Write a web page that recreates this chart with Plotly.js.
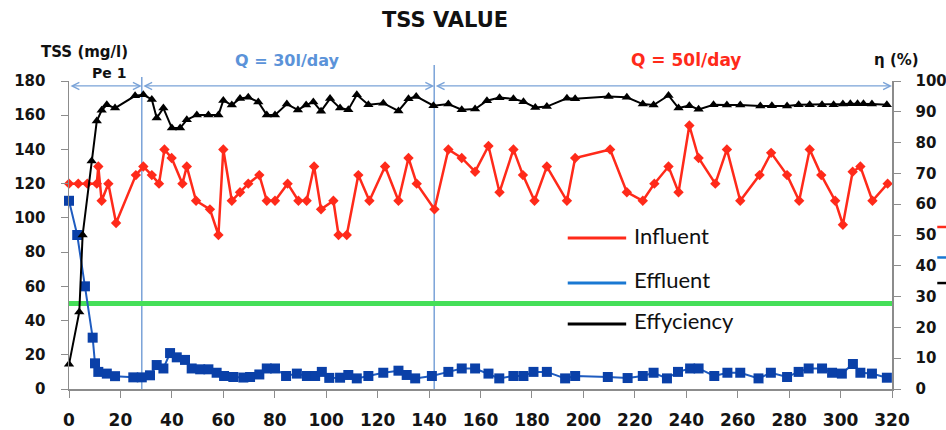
<!DOCTYPE html>
<html>
<head>
<meta charset="utf-8">
<script src="https://cdn.plot.ly/plotly-3.0.1.min.js"></script>
<style>html,body{margin:0;padding:0;background:#fff;}#chart{width:946px;height:430px;}</style>
</head>
<body>
<div id="chart"></div>
<script>
// Influent TSS (mg/l)
const dayInf = [0,3.6,7.1,10.8,11.4,12.7,15.3,18.3,26,28.9,32.2,35,37.1,39.9,44.1,45.8,49.4,54.8,58.1,60,63.3,66.5,69.7,74,76.9,80.1,85,89.2,92.4,95.3,98,102.8,104.8,108,112.5,116.8,122.9,128.1,132,135.2,142.1,147.5,152.7,157.9,163.1,167.4,172.8,176.5,181,185.8,193.6,196.8,210.4,216.9,223.1,227.6,233.1,237,241.2,244.8,251.3,255.8,261,268.5,273,279.2,283.9,288,292.5,297.9,300.9,304.7,307.7,312.4,318.3];
const influent = [120,120,120,120,130,110,120,97,125,130,125,120,140,135,120,130,110,105,90,140,110,115,120,125,110,110,120,110,110,130,105,110,90,90,125,110,130,110,135,120,105,140,135,127,142,115,140,125,110,130,110,135,140,115,110,120,130,115,154,135,120,140,110,125,138,125,110,140,125,110,96,127,130,110,120];

// Effluent TSS (mg/l)
const dayEff = [0,3.2,6.2,9.2,10.1,11.4,14.7,17.9,25,28.3,31.5,34.1,36.7,39.3,41.9,45.1,47.7,51,54.2,57.4,60.3,63.9,67.8,70.4,74,76.9,80.1,84.4,88.6,92.5,95.7,98.3,101.2,105.4,108.6,111.9,116.4,122.2,128.1,131.3,134.6,141.1,147.5,152.7,157.9,163.1,167.3,172.8,176.7,180.6,185.8,192.9,196.8,209.5,217.2,223.1,227.3,232.5,236.8,241.5,244.8,250.9,256,261,268.1,272.9,279.2,283.7,287.6,292.8,296.7,300.5,304.8,307.7,312.2,318];
const effluent = [110,90,60,30,15,10,9,7.5,6.8,6.8,8,14,12,21,18.5,17,12,11.5,11.5,9.5,7.6,7,6.7,7,8.5,12,12,7.6,9,7.6,7.6,10,6.5,6.6,8.2,6.2,7.6,9.5,10.7,8.2,6.2,7.6,10,12,12,9,6.2,7.6,7.6,10,10,6.2,7.6,7,6.4,7.6,9.5,6.2,10,12,12,7.6,9.5,9.5,6.2,9.5,7,10,12,12,9.5,9,14.6,9.5,9,6.6];

// Efficiency eta (%)
const dayEta = [0,4,5.3,8.8,10.8,12.7,14.7,17.9,25.7,28.9,32.2,34.1,36.7,40,43.2,45.8,49.7,54.2,58.1,60,63.3,66.5,69.7,73.6,76.9,80.1,84.7,89,92.2,95,98,101.5,105.4,108.6,111.9,116.4,122.2,128.1,132,135,141.7,147.5,152.7,157.9,162.5,167.4,172.8,176.7,181.3,185.8,193.6,196.8,209.8,216.9,223.1,227.3,233.1,237,241.2,244.8,250.6,255.8,261,268.8,273.3,279.2,283.7,288,292.8,297.3,300.9,303.8,306.6,308.9,312.2,318];
const efficiency = [8,25,50,74,87,90.5,92.3,91.2,95.2,95.5,94,88,91.2,84.7,84.7,87.4,89,89,89,93.7,92.2,94.3,94.7,93.2,89,89,92.5,90.6,92.2,93.2,90.2,94.3,91.2,90.7,95.5,92.3,92.8,90.3,94.2,95,92,92.5,90.7,90.9,93.6,94.6,94.2,93.3,91.4,91.7,94.4,94.2,95,94.7,92.5,92.2,95.3,91.2,92,90.8,92.3,92.2,92.2,91.9,92,91.9,92.3,92.3,92.3,92.3,92.5,92.6,92.6,92.6,92.5,92.3];

// Period boundaries (days) and limit
const periodBounds = [0, 28.3, 142, 320];
const limitTSS = 50;
const seriesNames = ["Influent", "Effluent", "Effyciency"];
const seriesColors = ["#ff2a1a", "#1a78d2", "#000000"];

const axisGray = "#8c8c8c";
const tickFontBase = {family: "DejaVu Sans", color: "#141414", weight: "bold"};

const traces = [
  {x: dayInf, y: influent, type: "scatter", mode: "lines+markers", name: seriesNames[0],
   line: {color: "#ff2a1a", width: 2.5}, marker: {symbol: "diamond", size: 8, color: "#ff2a1a"},
   cliponaxis: false, yaxis: "y"},
  {x: dayEff, y: effluent, type: "scatter", mode: "lines+markers", name: seriesNames[1],
   line: {color: "#1f5cc0", width: 2}, marker: {symbol: "square", size: 10, color: "#0a40a8"},
   cliponaxis: false, yaxis: "y"},
  {x: dayEta, y: efficiency, type: "scatter", mode: "lines+markers", name: seriesNames[2],
   line: {color: "#000", width: 2}, marker: {symbol: "triangle-up", size: 9, color: "#000"},
   cliponaxis: false, yaxis: "y2"}
];

const shapes = [];
// period separators
[periodBounds[1], periodBounds[2]].forEach((b, i) => {
  shapes.push({type: "line", xref: "x", yref: "paper", x0: b, x1: b, y0: 0, y1: i === 0 ? 1.013 : 1.052,
    line: {color: "#7aa3d8", width: 1.5}, layer: "below"});
});
// limit line
shapes.push({type: "line", xref: "paper", yref: "y", x0: 0, x1: 1, y0: limitTSS, y1: limitTSS,
  line: {color: "#45df58", width: 5}, layer: "below"});
// legend samples
const legY = [0.490, 0.344, 0.211];
legY.forEach((y, i) => {
  shapes.push({type: "line", xref: "paper", yref: "paper", x0: 0.606, x1: 0.677, y0: y, y1: y,
    line: {color: seriesColors[i], width: 3}});
});
// clipped legend fragments at the right edge
const fragY = [0.526, 0.427, 0.344];
fragY.forEach((y, i) => {
  shapes.push({type: "line", xref: "paper", yref: "paper", x0: 1.055, x1: 1.07, y0: y, y1: y,
    line: {color: seriesColors[i], width: 2.5}});
});

const annotations = [];
// period arrows
for (let i = 0; i < periodBounds.length - 1; i++) {
  annotations.push({xref: "x", yref: "paper", x: periodBounds[i + 1], y: 0.984,
    axref: "x", ayref: "pixel", ax: periodBounds[i], ay: 0, text: "", showarrow: true,
    arrowhead: 5, startarrowhead: 5, arrowside: "end+start", arrowsize: 1.1, startarrowsize: 1.1,
    arrowwidth: 1.3, arrowcolor: "#7aa3d8", standoff: 0, startstandoff: 0});
}
const txt = (text, x, y, size, color, family, bold, anchor) => ({
  xref: "paper", yref: "paper", x: x, y: y, text: text, showarrow: false,
  xanchor: anchor || "center", yanchor: "middle",
  font: {family: family || "DejaVu Sans", size: size, color: color || "#111", weight: bold ? "bold" : "normal"}
});
annotations.push(txt("TSS VALUE", 0.457, 1.198, 21, "#111", "DejaVu Sans", true));
annotations.push(txt("TSS (mg/l)", 0.0188, 1.094, 15, "#111", "DejaVu Sans", true));
annotations.push(txt("Pe 1", 0.048, 1.026, 14, "#111", "DejaVu Sans", true));
annotations.push(txt("Q = 30l/day", 0.2655, 1.065, 16, "#5b93d9", "DejaVu Sans", true));
annotations.push(txt("Q = 50l/day", 0.7497, 1.068, 17, "#ff2a1a", "DejaVu Sans", true));
annotations.push(txt("η (%)", 1.006, 1.068, 15, "#111", "DejaVu Sans", true));
const legTextY = [0.497, 0.357, 0.224];
legTextY.forEach((y, i) => annotations.push(txt(seriesNames[i], 0.684, y, 22, "#111", "Lato", false, "left")));

const layout = {
  width: 946, height: 430,
  margin: {l: 69, r: 54, t: 81, b: 41, pad: 0},
  paper_bgcolor: "#fff", plot_bgcolor: "#fff",
  showlegend: false,
  xaxis: {range: [0, 320], dtick: 20, tick0: 0, ticks: "outside", ticklen: 7, tickcolor: axisGray,
    showline: true, linecolor: axisGray, linewidth: 1.5, showgrid: false, zeroline: false,
    tickfont: Object.assign({size: 17}, tickFontBase), ticklabelstandoff: 8},
  yaxis: {range: [0, 180], dtick: 20, tick0: 0, ticks: "outside", ticklen: 7, tickcolor: axisGray,
    showline: true, linecolor: axisGray, linewidth: 1.5, showgrid: false, zeroline: false,
    tickfont: Object.assign({size: 15}, tickFontBase), ticklabelstandoff: 12},
  yaxis2: {range: [0, 100], dtick: 10, tick0: 0, overlaying: "y", side: "right", ticks: "outside",
    ticklen: 7, tickcolor: axisGray, showline: true, linecolor: axisGray, linewidth: 1.5,
    showgrid: false, zeroline: false, tickfont: Object.assign({size: 15}, tickFontBase), ticklabelstandoff: 12},
  shapes: shapes,
  annotations: annotations
};

Plotly.newPlot("chart", traces, layout, {displayModeBar: false, staticPlot: true});
</script>
</body>
</html>
